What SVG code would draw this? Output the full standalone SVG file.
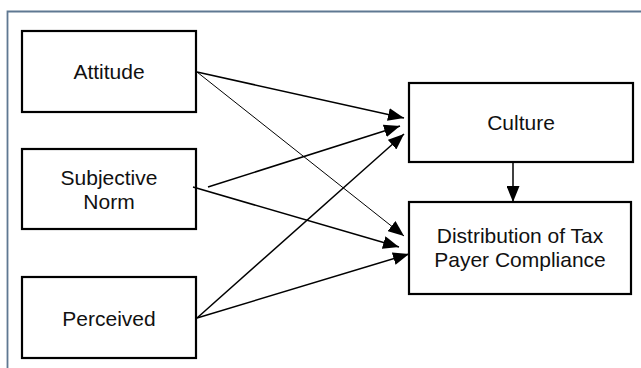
<svg xmlns="http://www.w3.org/2000/svg" width="641" height="368" viewBox="0 0 641 368">
<defs>
<style>
.box{fill:#fff;stroke:#000;stroke-width:2.2}
.t{font-family:"Liberation Sans",Arial,sans-serif;font-size:21px;fill:#111;text-anchor:middle}
.c{stroke:#000;stroke-width:1.5;fill:none;marker-end:url(#ah)}
.thin{stroke-width:1}
</style>
<marker id="ah" markerUnits="userSpaceOnUse" markerWidth="17" markerHeight="13" refX="16" refY="6.5" orient="auto">
<path d="M0,0 L16,6.5 L0,13 z" fill="#000"/>
</marker>
</defs>
<rect width="641" height="368" fill="#fff"/>
<path d="M641,11.5 H7.5 V368" fill="none" stroke="#5f7892" stroke-width="1.8"/>
<g id="attitude">
<rect class="box" x="22" y="31" width="174" height="81"/>
<text class="t" x="109" y="79">Attitude</text>
</g>
<g id="subjective-norm">
<rect class="box" x="22" y="149" width="174" height="80"/>
<text class="t" x="109" y="185">Subjective</text>
<text class="t" x="109" y="209">Norm</text>
</g>
<g id="perceived">
<rect class="box" x="22" y="277" width="174" height="81"/>
<text class="t" x="109" y="326">Perceived</text>
</g>
<g id="culture">
<rect class="box" x="409" y="83" width="224" height="79"/>
<text class="t" x="521" y="130">Culture</text>
</g>
<g id="distribution">
<rect class="box" x="409" y="202" width="222" height="92"/>
<text class="t" x="520" y="243">Distribution of Tax</text>
<text class="t" x="520" y="267">Payer Compliance</text>
</g>
<g id="connectors">
<line class="c" x1="197" y1="72" x2="404" y2="118"/>
<line class="c thin" x1="197" y1="72" x2="404" y2="236"/>
<line class="c" x1="208" y1="187" x2="400" y2="126"/>
<line class="c" x1="193" y1="187" x2="399" y2="247"/>
<line class="c" x1="197" y1="318" x2="404" y2="134"/>
<line class="c" x1="197" y1="318" x2="409" y2="254"/>
<line class="c" x1="513" y1="162" x2="513" y2="202"/>
</g>
</svg>
